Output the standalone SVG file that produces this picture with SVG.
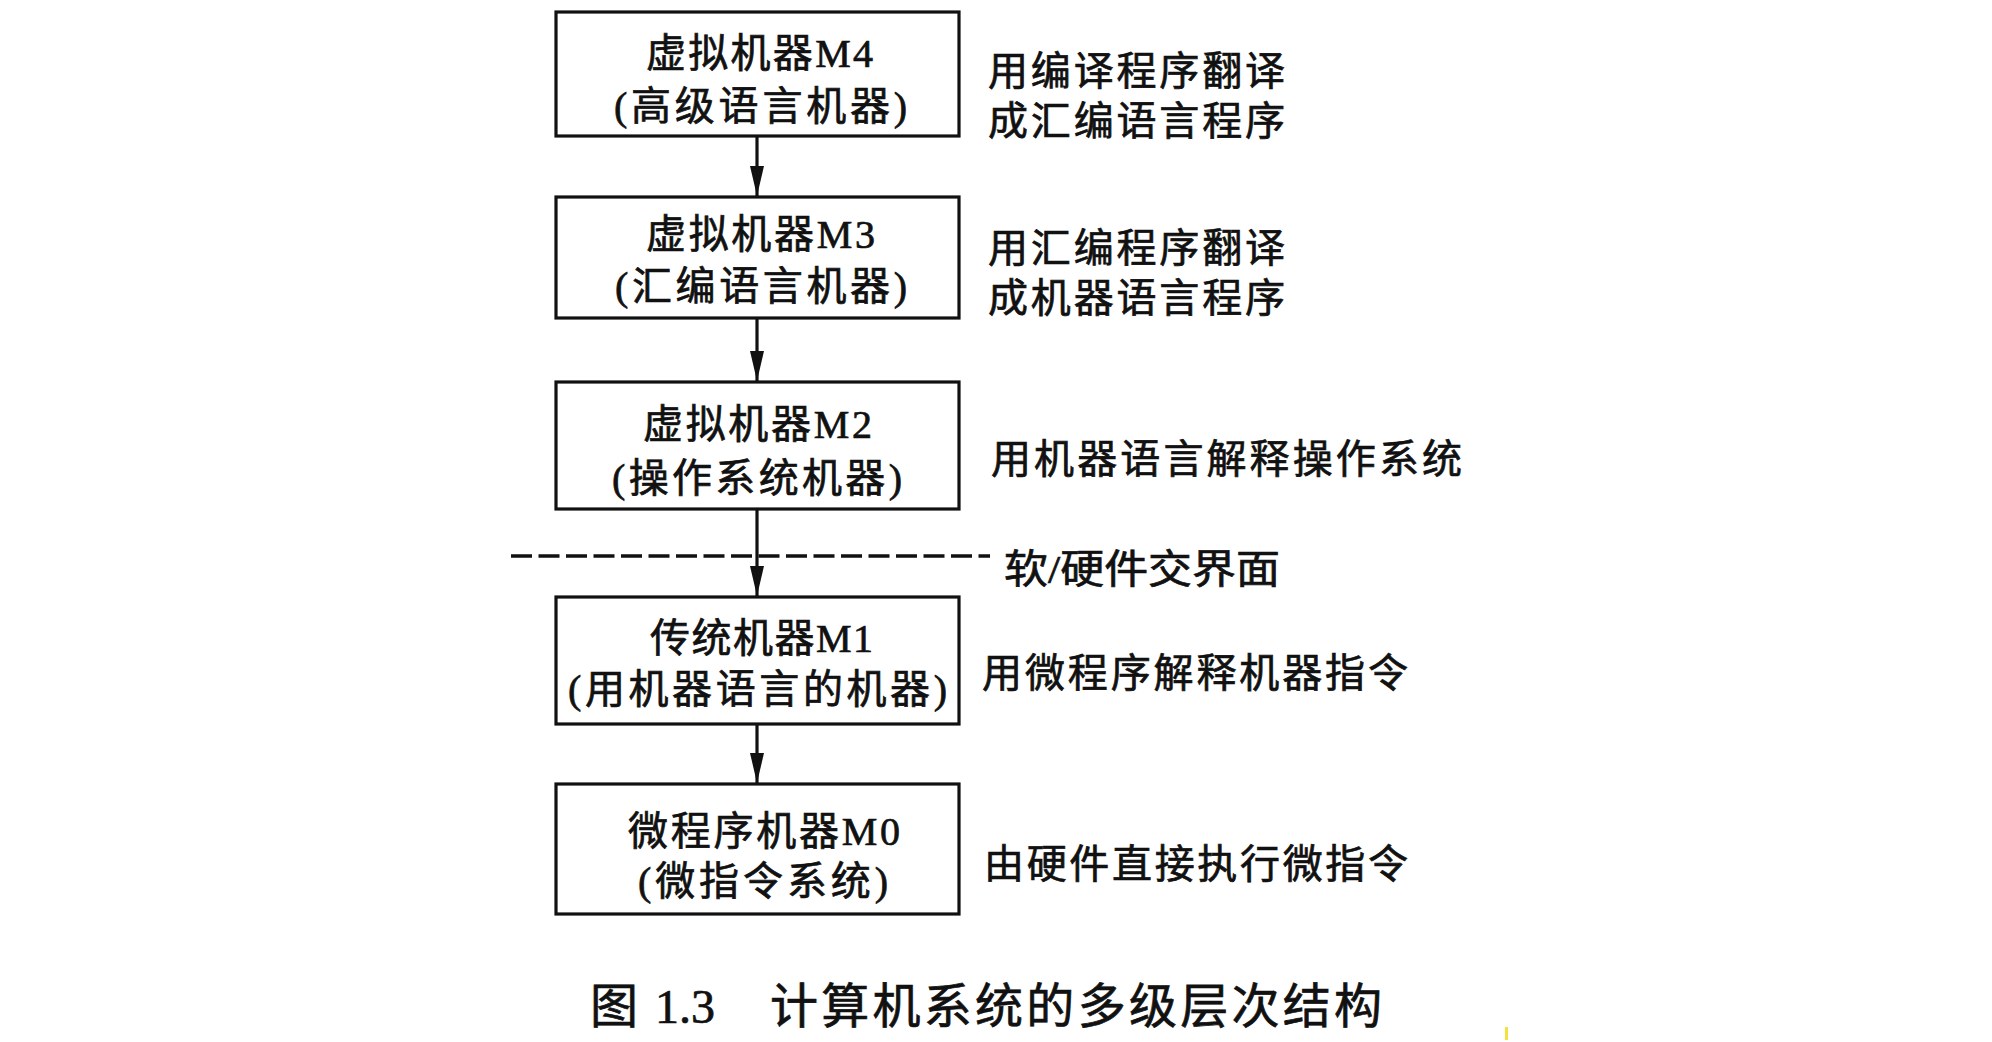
<svg xmlns="http://www.w3.org/2000/svg" width="1992" height="1042" viewBox="0 0 1992 1042">
<style>
.box{fill:#fff;stroke:#111;stroke-width:3.2}
.t{font-family:"Liberation Serif","Noto Sans CJK SC",serif;font-size:40px;fill:#111;stroke:#111;stroke-width:0.7}
.r{font-family:"Liberation Serif","Noto Sans CJK SC",serif;font-size:40px;fill:#111;stroke:#111;stroke-width:0.7}
.cap{font-family:"Liberation Serif","Noto Sans CJK SC",serif;font-size:48px;fill:#111;stroke:#111;stroke-width:0.7}
.ln{stroke:#111;stroke-width:3.2;fill:none}
.dash{stroke:#111;stroke-width:3.5;fill:none;stroke-dasharray:21 6.5}
</style>
<defs>
<marker id="ah" markerUnits="userSpaceOnUse" markerWidth="30" markerHeight="16" refX="30" refY="8" orient="auto" viewBox="0 0 30 16">
<path d="M0,1 L30,8 L0,15 Z" fill="#111"/>
</marker>
</defs>
<rect width="1992" height="1042" fill="#fff"/>
<g id="connectors">
<line class="ln" x1="757" y1="136" x2="757" y2="196" marker-end="url(#ah)"/>
<line class="ln" x1="757" y1="318" x2="757" y2="381" marker-end="url(#ah)"/>
<line class="ln" x1="757" y1="509" x2="757" y2="596" marker-end="url(#ah)"/>
<line class="ln" x1="757" y1="724" x2="757" y2="783" marker-end="url(#ah)"/>
</g>
<g id="boundary">
<line class="dash" x1="511" y1="556" x2="990" y2="556"/>
<text class="r" x="1004" y="583" textLength="276" lengthAdjust="spacingAndGlyphs">软/硬件交界面</text>
</g>
<g id="M4">
<rect class="box" x="556" y="12" width="403" height="124"/>
<text class="t" x="646" y="67" textLength="227">虚拟机器M4</text>
<text class="t" x="614" y="120" textLength="293">(高级语言机器)</text>
</g>
<g id="M3">
<rect class="box" x="556" y="197" width="403" height="121"/>
<text class="t" x="646" y="248" textLength="229">虚拟机器M3</text>
<text class="t" x="615" y="300" textLength="292">(汇编语言机器)</text>
</g>
<g id="M2">
<rect class="box" x="556" y="382" width="403" height="127"/>
<text class="t" x="643" y="438" textLength="229">虚拟机器M2</text>
<text class="t" x="612" y="492" textLength="290">(操作系统机器)</text>
</g>
<g id="M1">
<rect class="box" x="556" y="597" width="403" height="127"/>
<text class="t" x="650" y="652" textLength="223">传统机器M1</text>
<text class="t" x="568" y="703" textLength="379">(用机器语言的机器)</text>
</g>
<g id="M0">
<rect class="box" x="556" y="784" width="403" height="130"/>
<text class="t" x="628" y="845" textLength="272">微程序机器M0</text>
<text class="t" x="638" y="895" textLength="250">(微指令系统)</text>
</g>
<g id="labels">
<text class="r" x="988" y="85" textLength="297">用编译程序翻译</text>
<text class="r" x="988" y="135" textLength="297">成汇编语言程序</text>
<text class="r" x="988" y="262" textLength="297">用汇编程序翻译</text>
<text class="r" x="988" y="312" textLength="297">成机器语言程序</text>
<text class="r" x="991" y="473" textLength="471">用机器语言解释操作系统</text>
<text class="r" x="982" y="687" textLength="426">用微程序解释机器指令</text>
<text class="r" x="984" y="878" textLength="424">由硬件直接执行微指令</text>
</g>
<g id="caption">
<text class="cap" y="1023"><tspan x="590">图</tspan><tspan x="655">1.3</tspan><tspan x="770" textLength="612">计算机系统的多级层次结构</tspan></text>
</g>
<rect x="1505" y="1027" width="3" height="13" fill="#f2e23a"/>
</svg>
